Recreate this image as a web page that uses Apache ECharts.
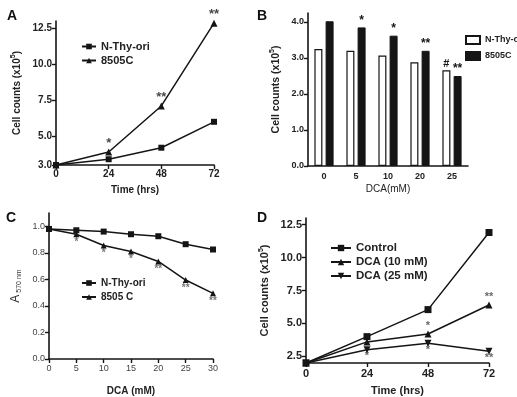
<!DOCTYPE html>
<html>
<head>
<meta charset="utf-8">
<script src="https://cdn.jsdelivr.net/npm/echarts@6/dist/echarts.min.js"></script>
<style>
  html, body { margin: 0; padding: 0; background: #fff; }
  #chart { width: 517px; height: 397px; }
</style>
</head>
<body>
<div id="chart"></div>
<script>
// panel A: growth over time
const timeA = [0, 24, 48, 72]
const nthyA = [3.0, 3.4, 4.2, 6.0]
const c8505A = [3.0, 3.9, 7.1, 12.85]
const starsA = ['', '*', '**', '**']
const ticksA = [3, 5, 7.5, 10, 12.5]

// panel B: bars by DCA dose
const doseB = ['0', '5', '10', '20', '25']
const nthyB = [3.25, 3.2, 3.07, 2.88, 2.66]
const c8505B = [4.02, 3.85, 3.62, 3.2, 2.5]
const marksNthyB = ['', '', '', '', '#']
const marks8505B = ['', '*', '*', '**', '**']
const ticksB = [0, 1, 2, 3, 4]

// panel C: absorbance
const doseC = [0, 5, 10, 15, 20, 25, 30]
const nthyC = [0.98, 0.97, 0.96, 0.94, 0.925, 0.865, 0.825]
const c8505C = [0.98, 0.94, 0.855, 0.81, 0.735, 0.595, 0.495]
const starsC = ['', '*', '*', '*', '**', '**', '**']
const ticksC = [0, 0.2, 0.4, 0.6, 0.8, 1.0]

// panel D: growth with DCA
const timeD = [0, 24, 48, 72]
const controlD = [2.0, 4.0, 6.05, 11.9]
const dca10D = [2.0, 3.6, 4.2, 6.4]
const dca25D = [2.0, 3.0, 3.5, 2.9]
const stars10D = ['', '', '*', '**']
const stars25D = ['', '*', '*', '**']
const ticksD = [2.5, 5, 7.5, 10, 12.5]

const ink = '#151515'
const font = 'Liberation Sans'
const invTri = 'path://M0,0 L10,0 L5,9 Z'

const chart = echarts.init(document.getElementById('chart'))

function pairs(xs, ys) {
  return xs.map((x, i) => [x, ys[i]])
}

function valueAxis(idx, opt) {
  // shared look of the black axes
  return Object.assign({
    gridIndex: idx,
    type: 'value',
    splitLine: { show: false },
    axisLine: { show: true, onZero: false, lineStyle: { color: ink, width: 1.6 } },
    axisTick: { show: true, length: 4, lineStyle: { color: ink, width: 1.4 } },
    nameLocation: 'middle',
    nameTextStyle: { color: '#222', fontFamily: font, fontWeight: 'bold', fontSize: 10 },
    axisLabel: { color: '#222', fontFamily: font, fontWeight: 'bold', fontSize: 10, margin: 4 }
  }, opt)
}

function lineSeries(name, x, y, data, symbol, size) {
  return {
    name: name,
    type: 'line',
    xAxisIndex: x,
    yAxisIndex: y,
    data: data,
    symbol: symbol,
    symbolSize: size,
    color: ink,
    lineStyle: { color: ink, width: 1.5 },
    itemStyle: { color: ink },
    z: 3
  }
}

function starSeries(x, y, xs, ys, marks, pos, opt) {
  return {
    type: 'scatter',
    xAxisIndex: x,
    yAxisIndex: y,
    data: xs.map((v, i) => [v, ys[i], marks[i]]),
    symbolSize: 0,
    silent: true,
    label: Object.assign({
      show: true,
      position: pos,
      formatter: p => p.value[2],
      color: ink,
      fontFamily: font,
      fontWeight: 'bold',
      fontSize: 12
    }, opt)
  }
}

const cellName = '{a|Cell counts (x10}{s|5}{a|)}'
const cellRich = (size) => ({
  a: { fontSize: size, fontWeight: 'bold', fontFamily: font, color: '#222', lineHeight: 14 },
  s: { fontSize: 7, fontWeight: 'bold', fontFamily: font, color: '#222', verticalAlign: 'top', lineHeight: 14, padding: [0, 0, 6, 0] }
})

const letter = (t, l, top) => ({
  text: t, left: l, top: top,
  textStyle: { fontFamily: font, fontWeight: 'bold', fontSize: 14, color: '#111' }
})

const legendText = (size) => ({ fontFamily: font, fontWeight: 'bold', fontSize: size, color: '#222' })

const option = {
  animation: false,
  backgroundColor: '#fff',
  title: [letter('A', 2, 4), letter('B', 252, 4), letter('C', 1, 206), letter('D', 252, 206)],
  grid: [
    { left: 56, top: 21, width: 158, height: 144 },
    { left: 308, top: 13, width: 160, height: 153 },
    { left: 49, top: 213, width: 164, height: 150 },
    { left: 306, top: 218, width: 183, height: 146 }
  ],
  legend: [
    {
      data: ['N-Thy-ori', '8505C'], orient: 'vertical', left: 76, top: 36,
      itemWidth: 14, itemHeight: 7, itemGap: 3, textStyle: legendText(11)
    },
    {
      data: ['N-Thy-ori ', '8505C '], orient: 'vertical', left: 460, top: 30,
      icon: 'rect', itemWidth: 14, itemHeight: 8, itemGap: 6, textStyle: legendText(9)
    },
    {
      data: ['N-Thy-ori  ', '8505 C'], orient: 'vertical', left: 76, top: 273,
      itemWidth: 14, itemHeight: 7, itemGap: 4, textStyle: legendText(10)
    },
    {
      data: ['Control', 'DCA (10 mM)', 'DCA (25 mM)'], orient: 'vertical', left: 325, top: 237,
      itemWidth: 20, itemHeight: 8, itemGap: 2, textStyle: legendText(11.5)
    }
  ],
  xAxis: [
    valueAxis(0, { min: 0, max: 72, interval: 24, name: 'Time (hrs)', nameGap: 20 }),
    {
      gridIndex: 1, type: 'category', data: doseB,
      axisLine: { lineStyle: { color: ink, width: 1.6 } },
      axisTick: { show: false },
      axisLabel: { color: '#222', fontFamily: font, fontWeight: 'bold', fontSize: 9, margin: 6 },
      name: 'DCA(mM)', nameLocation: 'middle', nameGap: 18,
      nameTextStyle: { color: '#222', fontFamily: font, fontSize: 10 }
    },
    valueAxis(2, {
      min: 0, max: 30, interval: 5, name: 'DCA (mM)', nameGap: 27,
      axisLabel: { color: '#444', fontFamily: font, fontSize: 9, margin: 5 }
    }),
    valueAxis(3, {
      min: 0, max: 72, interval: 24, name: 'Time (hrs)', nameGap: 22,
      nameTextStyle: { color: '#222', fontFamily: font, fontWeight: 'bold', fontSize: 11 },
      axisLabel: { color: '#222', fontFamily: font, fontWeight: 'bold', fontSize: 11, margin: 5 }
    })
  ],
  yAxis: [
    valueAxis(0, {
      min: 3, max: 13, name: cellName, nameGap: 32,
      nameTextStyle: { rich: cellRich(10) },
      axisTick: { show: true, length: 4, customValues: ticksA, lineStyle: { color: ink, width: 1.4 } },
      axisLabel: { color: '#222', fontFamily: font, fontWeight: 'bold', fontSize: 10, margin: 4,
        customValues: ticksA, formatter: v => v.toFixed(1) }
    }),
    valueAxis(1, {
      min: 0, max: 4.25, name: cellName, nameGap: 25,
      nameTextStyle: { rich: cellRich(10.5) },
      axisTick: { show: true, length: 4, customValues: ticksB, lineStyle: { color: ink, width: 1.4 } },
      axisLabel: { color: '#222', fontFamily: font, fontWeight: 'bold', fontSize: 9, margin: 4,
        customValues: ticksB, formatter: v => v.toFixed(1) }
    }),
    valueAxis(2, {
      min: 0, max: 1.1, name: '{a|A}{s| 570 nm}', nameGap: 26,
      nameTextStyle: {
        rich: {
          a: { fontSize: 12, fontFamily: font, color: '#333', lineHeight: 14 },
          s: { fontSize: 7, fontFamily: font, color: '#333', verticalAlign: 'bottom', lineHeight: 14 }
        }
      },
      axisTick: { show: true, length: 4, customValues: ticksC, lineStyle: { color: ink, width: 1.4 } },
      axisLabel: { color: '#444', fontFamily: font, fontSize: 9, margin: 4,
        customValues: ticksC, formatter: v => v.toFixed(1) }
    }),
    valueAxis(3, {
      min: 2, max: 13, name: cellName, nameGap: 34,
      nameTextStyle: { rich: cellRich(11) },
      axisTick: { show: true, length: 4, customValues: ticksD, lineStyle: { color: ink, width: 1.4 } },
      axisLabel: { color: '#222', fontFamily: font, fontWeight: 'bold', fontSize: 11, margin: 4,
        customValues: ticksD, formatter: v => v.toFixed(1) }
    })
  ],
  series: [
    // A
    lineSeries('N-Thy-ori', 0, 0, pairs(timeA, nthyA), 'rect', 6),
    lineSeries('8505C', 0, 0, pairs(timeA, c8505A), 'triangle', 7),
    starSeries(0, 0, timeA, c8505A, starsA, 'top', { distance: 2, fontSize: 13 }),
    // B
    {
      name: 'N-Thy-ori ', type: 'bar', xAxisIndex: 1, yAxisIndex: 1, data: nthyB,
      barWidth: 8, barGap: '40%',
      itemStyle: { color: '#fff', borderColor: ink, borderWidth: 1.2 },
      label: { show: true, position: 'top', distance: 1, formatter: p => marksNthyB[p.dataIndex],
        color: ink, fontFamily: font, fontWeight: 'bold', fontSize: 11 }
    },
    {
      name: '8505C ', type: 'bar', xAxisIndex: 1, yAxisIndex: 1, data: c8505B,
      barWidth: 8,
      itemStyle: { color: ink, borderColor: ink, borderWidth: 1 },
      label: { show: true, position: 'top', distance: 1, formatter: p => marks8505B[p.dataIndex],
        color: ink, fontFamily: font, fontWeight: 'bold', fontSize: 12 }
    },
    // C
    lineSeries('N-Thy-ori  ', 2, 2, pairs(doseC, nthyC), 'rect', 6),
    lineSeries('8505 C', 2, 2, pairs(doseC, c8505C), 'triangle', 6),
    starSeries(2, 2, doseC, c8505C, starsC, 'bottom', { distance: 3, fontSize: 10, color: '#555' }),
    // D
    lineSeries('Control', 3, 3, pairs(timeD, controlD), 'rect', 7),
    lineSeries('DCA (10 mM)', 3, 3, pairs(timeD, dca10D), 'triangle', 7),
    lineSeries('DCA (25 mM)', 3, 3, pairs(timeD, dca25D), invTri, 7),
    starSeries(3, 3, timeD, dca10D, stars10D, 'top', { distance: 3, fontSize: 11, color: '#444' }),
    starSeries(3, 3, timeD, dca25D, stars25D, 'bottom', { distance: 1, fontSize: 11, color: '#444' })
  ]
}

chart.setOption(option)
</script>
</body>
</html>
